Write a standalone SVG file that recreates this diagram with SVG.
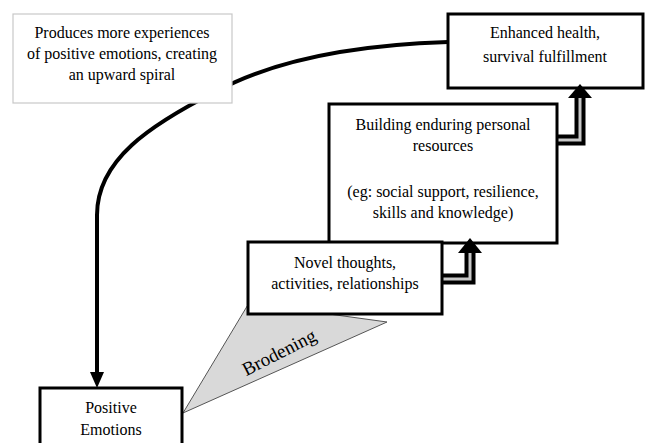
<svg xmlns="http://www.w3.org/2000/svg" width="645" height="443" viewBox="0 0 645 443">
<style>
.box{fill:#fff;stroke:#000;stroke-width:3}
.note{fill:#fff;stroke:#c8c8c8;stroke-width:1.2}
.t{font-family:"Liberation Serif","DejaVu Serif",serif;font-size:16px;fill:#000;text-anchor:middle}
.big{font-size:19px}
.curve{fill:none;stroke:#000;stroke-width:4}
.hol{fill:none;stroke:#000;stroke-width:11}
.holin{fill:none;stroke:#c8c8c8;stroke-width:3}
</style>
<rect width="645" height="443" fill="#fff"/>
<g id="connectors">
<path class="curve" d="M448,42 C350,45 270,62 215,92 C150,125 97,160 97,215 V374"/>
<polygon points="90,372 104,372 97,388" fill="#000"/>
</g>
<g id="note">
<rect class="note" x="13" y="14" width="219" height="89"/>
<text class="t" x="122" y="38">Produces more experiences</text>
<text class="t" x="122" y="59">of positive emotions, creating</text>
<text class="t" x="122" y="80">an upward spiral</text>
</g>
<g id="broadening">
<polygon points="183,413 249,303 387,322" fill="#d9d9d9" stroke="#555" stroke-width="1"/>
<text class="t big" x="0" y="0" transform="translate(282,358) rotate(-27)">Brodening</text>
</g>
<g id="enhanced">
<rect class="box" x="448" y="14" width="195" height="74"/>
<text class="t" x="545" y="38">Enhanced health,</text>
<text class="t" x="545" y="62">survival fulfillment</text>
</g>
<g id="arrow-build-enhanced">
<path class="hol" d="M557,140 H580 V97"/>
<path class="holin" d="M557,140 H580 V90"/>
<polygon points="568,98 580,84 592,98" fill="#000"/>
</g>
<g id="building">
<rect class="box" x="329" y="104" width="228" height="139"/>
<text class="t" x="443" y="130">Building enduring personal</text>
<text class="t" x="443" y="151">resources</text>
<text class="t" x="443" y="197">(eg: social support, resilience,</text>
<text class="t" x="443" y="218">skills and knowledge)</text>
</g>
<g id="arrow-novel-building">
<path class="hol" d="M442,279 H470 V252"/>
<path class="holin" d="M442,279 H470 V246"/>
<polygon points="458,253 470,238 482,253" fill="#000"/>
</g>
<g id="novel">
<rect class="box" x="248" y="242" width="194" height="72"/>
<text class="t" x="345" y="268">Novel thoughts,</text>
<text class="t" x="345" y="289">activities, relationships</text>
</g>
<g id="positive">
<rect class="box" x="40" y="388" width="142" height="60"/>
<text class="t" x="111" y="413">Positive</text>
<text class="t" x="111" y="435">Emotions</text>
</g>
</svg>
